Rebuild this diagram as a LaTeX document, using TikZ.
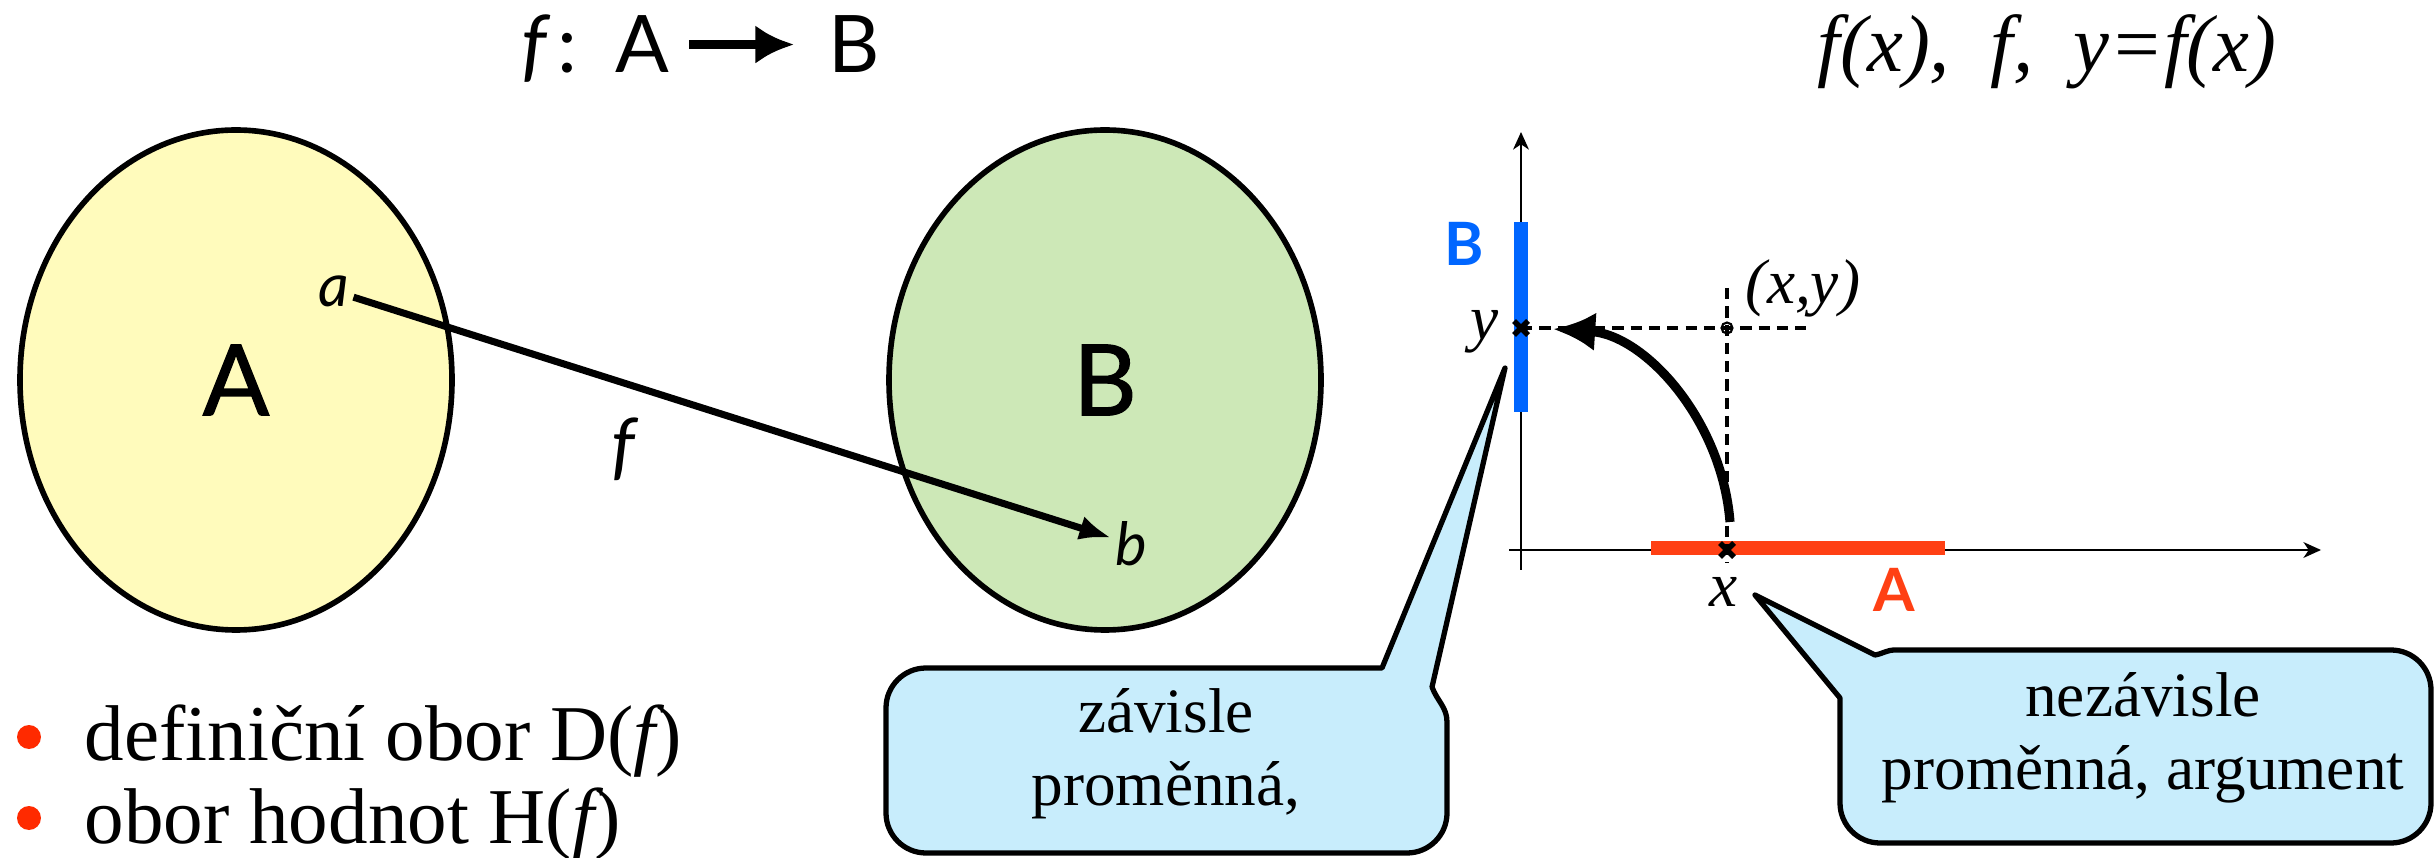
\documentclass[tikz,border=0pt]{standalone}
\usepackage{fontspec}
\setmainfont{Liberation Serif}
\newfontfamily\gillfont{Lato}
\newfontfamily\gillmedium[FakeBold=1.2]{Lato}
\usetikzlibrary{arrows.meta,shapes.geometric}

\definecolor{setyellow}{RGB}{255,251,188}
\definecolor{setgreen}{RGB}{205,232,183}
\definecolor{calloutblue}{RGB}{200,237,252}
\definecolor{rangeblue}{RGB}{0,102,255}
\definecolor{domainred}{RGB}{255,64,20}
\definecolor{bulletred}{RGB}{255,42,0}

\begin{document}
\begin{tikzpicture}[
    set/.style={draw, line width=1.6pt, ellipse, minimum width=4.32cm, minimum height=5cm, inner sep=0pt, font=\gillmedium\fontsize{28}{30}\selectfont},
    elem/.style={inner sep=1pt, font=\gillfont\itshape\fontsize{17}{19}\selectfont},
    bubble/.style={draw, line width=1.5pt, fill=calloutblue, line join=round},
    bubbletext/.style={align=center, inner sep=0pt, font=\fontsize{18}{20.7}\selectfont},
    listtext/.style={anchor=base west, inner sep=0pt, font=\fontsize{22.5}{24}\selectfont},
    mathtext/.style={inner sep=0pt, font=\itshape\fontsize{18}{20}\selectfont},
    gridline/.style={line width=1.1pt, dash pattern=on 3.2pt off 2pt},
    axis/.style={line width=0.6pt, -{Stealth[length=5pt,width=4.5pt,inset=1.5pt]}},
    cross/.style={line width=1.6pt},
]
    \useasboundingbox (0,0) rectangle (24.36,8.57);

    % Titles
    \node[anchor=base east, inner sep=0pt, font=\gillfont\fontsize{22.6}{24}\selectfont] (ttlA) at (6.70,7.84) {{\itshape f}\hspace{3pt}:\hspace{11pt}A};
    \node[anchor=base west, inner sep=0pt, font=\gillfont\fontsize{22.6}{24}\selectfont] (ttlB) at (8.28,7.84) {B};
    \draw[line width=2.8pt, shorten <=0.19cm, shorten >=0.34cm, -{Latex[length=11pt,width=11pt]}] (ttlA.east |- ttlB.west) -- (ttlB.west);
    \node[anchor=base west, inner sep=0pt, font=\itshape\fontsize{23}{25}\selectfont] (ttlf) at (18.17,7.85) {f(x),\ \ f,\ \ y=f(x)};

    % Sets A and B
    \node[set, fill=setyellow] (setA) at (2.36,4.77) {A};
    \node[set, fill=setgreen] (setB) at (11.05,4.77) {B};

    % Mapping a -> b
    \node[elem] (a) at (3.34,5.66) {a};
    \node[elem] (b) at (11.31,3.13) {b};
    \node[elem, font=\gillfont\itshape\fontsize{21}{23}\selectfont] (flabel) at (6.23,4.08) {f};
    \draw[line width=2pt, -{Latex[length=9pt,width=7pt]}] (a) -- (b);

    % Axes
    \draw[axis] (15.21,2.87) -- (15.21,7.25);
    \draw[axis] (15.09,3.07) -- (23.21,3.07);

    % Range and domain on the axes
    \draw[line width=4pt, rangeblue] (15.21,4.45) -- (15.21,6.35);
    \draw[line width=3.7pt, domainred] (16.51,3.09) -- (19.45,3.09);
    \node[font=\gillfont\bfseries\fontsize{17}{19}\selectfont, text=rangeblue] (labB) at (14.64,6.13) {B};
    \node[font=\gillfont\bfseries\fontsize{17}{19}\selectfont, text=domainred] (labA) at (18.94,2.67) {A};

    % Point (x,y)
    \coordinate (pt) at (17.27,5.29);
    \coordinate (yval) at (15.21,5.29);
    \coordinate (xval) at (17.27,3.07);
    \draw[gridline] (yval) -- (18.12,5.29);
    \draw[gridline, line width=0.9pt] (17.27,5.69) -- (17.27,2.94);
    \draw[line width=0.6pt] (pt) circle (0.055);
    \draw[cross] (yval) +(-0.07,-0.07) -- +(0.07,0.07) +(-0.07,0.07) -- +(0.07,-0.07);
    \draw[cross] (xval) +(-0.07,-0.07) -- +(0.07,0.07) +(-0.07,0.07) -- +(0.07,-0.07);
    \node[mathtext] (ptlabel) at (18.03,5.69) {(x,y)};
    \node[mathtext] (ylabel) at (14.85,5.25) {y};
    \node[mathtext] (xlabel) at (17.24,2.65) {x};

    % Curved arrow x -> y
    \coordinate (cstart) at (17.30,3.35);
    \coordinate (cend) at (15.53,5.28);
    \draw[line width=2.6pt, -{Latex[length=12pt,width=11pt]}] (cstart) .. controls (17.22,4.37) and (16.45,5.22) .. (cend);

    % Callout: dependent variable
    \draw[bubble] (13.82,1.89) -- (15.05,4.89) -- (14.32,1.70) to[out=-70,in=90] (14.47,1.35)
        -- (14.47,0.44) arc[start angle=0,end angle=-90,radius=0.4]
        -- (9.26,0.04) arc[start angle=270,end angle=180,radius=0.4]
        -- (8.86,1.49) arc[start angle=180,end angle=90,radius=0.4] -- cycle;
    \node[bubbletext] (depvar) at (11.66,1.03) {závisle\\proměnná,};

    % Callout: independent variable
    \draw[bubble] (17.55,2.62) -- (18.75,2.02) to[out=10,in=180] (18.95,2.07)
        -- (23.91,2.07) arc[start angle=90,end angle=0,radius=0.4]
        -- (24.31,0.54) arc[start angle=0,end angle=-90,radius=0.4]
        -- (18.80,0.14) arc[start angle=270,end angle=180,radius=0.4]
        -- (18.40,1.59) -- cycle;
    \node[bubbletext] (indepvar) at (21.43,1.19) {nezávisle\\proměnná, argument};

    % Bullet list
    \fill[bulletred] (0.29,1.20) circle (0.12);
    \fill[bulletred] (0.29,0.39) circle (0.12);
    \node[listtext] (domain) at (0.84,0.97) {definiční obor D({\itshape f})};
    \node[listtext] (range) at (0.84,0.14) {obor hodnot H({\itshape f})};
\end{tikzpicture}
\end{document}
